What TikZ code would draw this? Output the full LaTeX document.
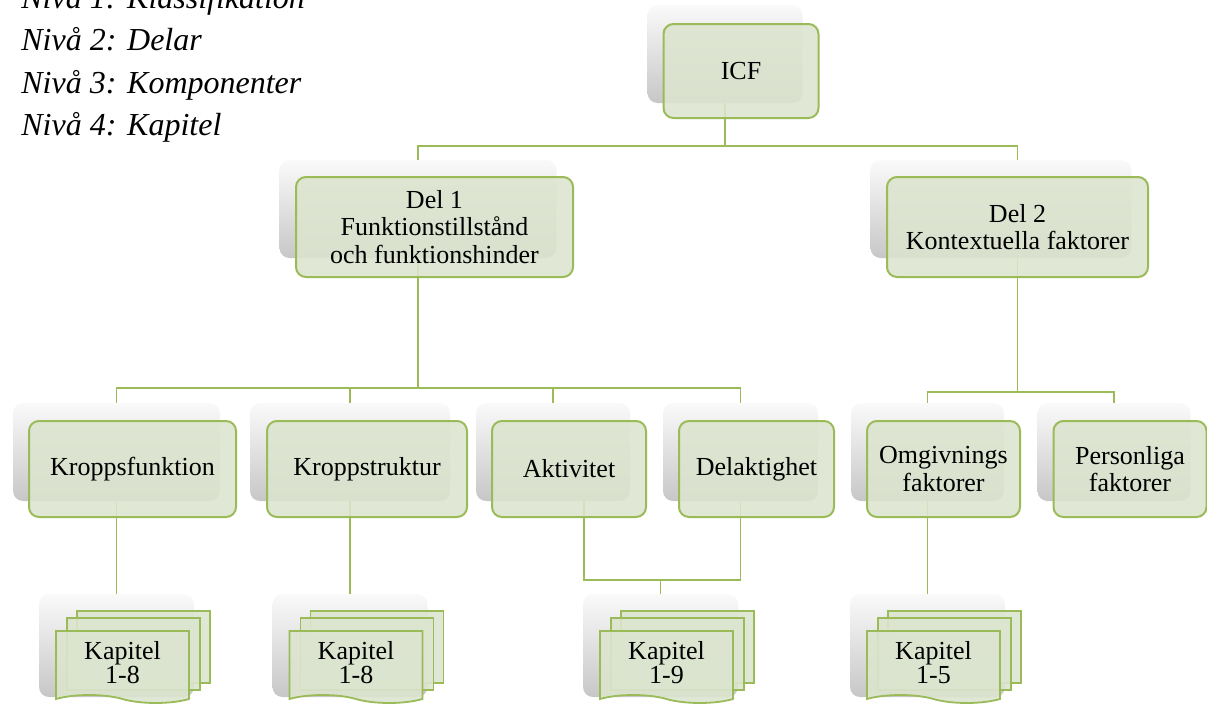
\documentclass[tikz,border=0pt]{standalone}
\usepackage{fontspec}
\setmainfont{Liberation Serif}
\usetikzlibrary{backgrounds, shapes.symbols}

\definecolor{boxLine}{HTML}{9BBB59}
\definecolor{boxFill}{HTML}{DCE5CF}

\begin{document}
\begin{tikzpicture}[
        x=0.5pt, y=-0.5pt,
        shadowNode/.style={rectangle, rounded corners=5pt, top color=black!2, bottom color=black!22, minimum height=49pt, inner sep=0pt},
        greenNode/.style={rectangle, draw=boxLine, line width=1pt, rounded corners=5pt, fill=boxFill, fill opacity=0.88, text opacity=1, align=center, minimum height=48pt, inner sep=2pt, font=\fontsize{13}{13.75}\selectfont},
        pageNode/.style={rectangle, draw=boxLine, line width=0.9pt, fill=boxFill, fill opacity=0.9, minimum width=66.5pt, minimum height=36pt, inner sep=0pt},
        docNode/.style={pageNode, tape, tape bend top=none, tape bend bottom=out and in, tape bend height=4pt, align=center, text opacity=1, font=\fontsize{13}{12}\selectfont},
        link/.style={draw=boxLine, line width=0.8pt},
        legend/.style={anchor=base west, inner sep=0pt, font=\fontsize{16}{20}\selectfont\itshape}
    ]
        \useasboundingbox (0,0) rectangle (1207,707);

        % levels
        \foreach \i/\t in {1/Klassifikation, 2/Delar, 3/Komponenter, 4/Kapitel}
            \node[legend] (niva\i) at (21, {8+42.5*(\i-1)}) {Nivå \i: \t};

        % level 1 and 2
        \node[shadowNode, minimum width=77.5pt] (icf-s) at (725,54) {};
        \node[greenNode, minimum width=77.5pt, minimum height=47pt] (icf) at (741,71) {ICF};
        \node[shadowNode, minimum width=138.5pt] (del1-s) at (418,209) {};
        \node[greenNode, minimum width=138.5pt, minimum height=50pt] (del1) at (434.5,227) {Del 1\\Funktionstillstånd\\och funktionshinder};
        \node[shadowNode, minimum width=130.5pt] (del2-s) at (1001,209) {};
        \node[greenNode, minimum width=130.5pt, minimum height=50pt] (del2) at (1017.5,227) {Del 2\\Kontextuella faktorer};

        % level 3
        \node[shadowNode, minimum width=103.5pt] (kfunk-s) at (116.5,452) {};
        \node[greenNode, minimum width=103.5pt] (kfunk) at (132.5,469) {Kroppsfunktion};
        \node[shadowNode, minimum width=100pt] (kstruk-s) at (350,452) {};
        \node[greenNode, minimum width=100pt] (kstruk) at (367,469) {Kroppstruktur};
        \node[shadowNode, minimum width=77pt] (aktiv-s) at (553,452) {};
        \node[greenNode, minimum width=77pt] (aktiv) at (569,469) {Aktivitet};
        \node[shadowNode, minimum width=77.5pt] (delakt-s) at (740.5,452) {};
        \node[greenNode, minimum width=77.5pt] (delakt) at (756.5,469) {Delaktighet};
        \node[shadowNode, minimum width=76.5pt] (omgiv-s) at (927.5,452) {};
        \node[greenNode, minimum width=76.5pt] (omgiv) at (943.5,469) {Omgivnings\\faktorer};
        \node[shadowNode, minimum width=76.5pt] (pers-s) at (1114,452) {};
        \node[greenNode, minimum width=76.5pt] (pers) at (1130,469) {Personliga\\faktorer};

        % level 4
        \foreach \n/\x/\t in {kap1/116.5/1-8, kap2/350/1-8, kap3/660.5/1-9, kap4/927.5/1-5} {
            \node[shadowNode, minimum width=77.5pt, minimum height=51.5pt] (\n-s) at (\x,645.5) {};
            \node[pageNode] (\n-b) at (\x+27,647) {};
            \node[pageNode] (\n-m) at (\x+17,654) {};
            \node[docNode] (\n) at (\x+6,663) {Kapitel\\\t};
        }

        \begin{scope}[on background layer]
            \draw[link] (icf-s.center) -- ++(0,92) -| (del1-s.center);
            \draw[link] (icf-s.center) -- ++(0,92) -| (del2.center);
            \foreach \c in {kfunk, kstruk, aktiv, delakt}
                \draw[link] (del1-s.center) -- ++(0,179) -| (\c-s.center);
            \foreach \c in {omgiv, pers}
                \draw[link] (del2.center) -- ++(0,165) -| (\c-s.center);
            \draw[link] (kfunk-s.center) -- (kap1-s.center);
            \draw[link] (kstruk-s.center) -- (kap2-s.center);
            \draw[link] ([xshift=7.5pt]aktiv.center) -- ++(0,111) -| (kap3-s.center);
            \draw[link] (delakt-s.center) -- ++(0,128) -| (kap3-s.center);
            \draw[link] (omgiv-s.center) -- (kap4-s.center);
        \end{scope}
    \end{tikzpicture}
\end{document}
